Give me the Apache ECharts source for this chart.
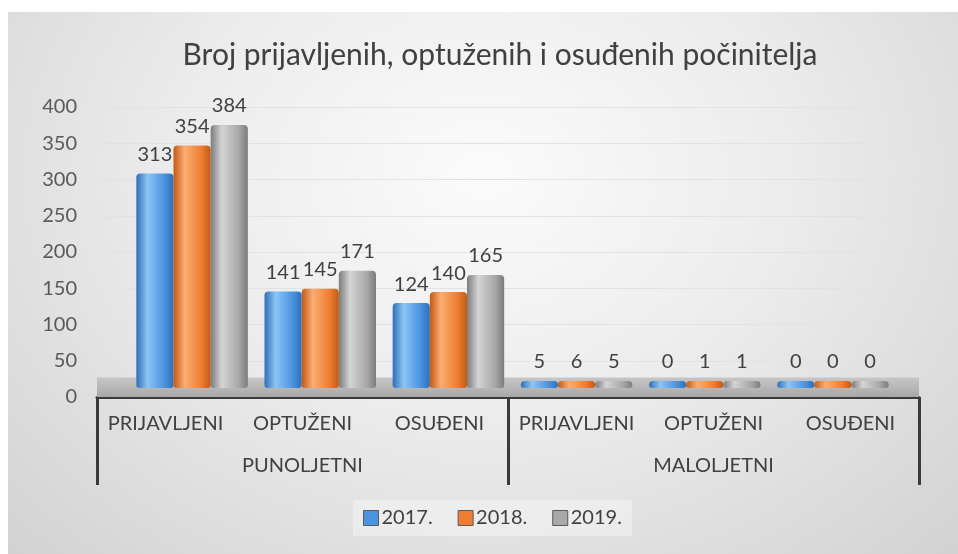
<!DOCTYPE html>
<html>
<head>
<meta charset="utf-8">
<script src="https://cdn.jsdelivr.net/npm/echarts@6/dist/echarts.min.js"></script>
<style>
  html, body { margin: 0; padding: 0; background: #fff; }
  #main {
    position: absolute; left: 8px; top: 12px; width: 950px; height: 542px;
    background: radial-gradient(ellipse at 50% 30%, #fbfbfb 0%, #ececec 45%, #d2d2d2 100%);
  }
</style>
</head>
<body>
<div id="main"></div>
<script>
// kategorije i grupe
var categories = ['PRIJAVLJENI', 'OPTUŽENI', 'OSUĐENI', 'PRIJAVLJENI', 'OPTUŽENI', 'OSUĐENI'];
var groups = ['PUNOLJETNI', 'MALOLJETNI'];
var years = ['2017.', '2018.', '2019.'];

// vrijednosti po godinama
var data2017 = [313, 141, 124, 5, 0, 0];
var data2018 = [354, 145, 140, 6, 1, 0];
var data2019 = [384, 171, 165, 5, 1, 0];

var yTicks = { min: 0, max: 400, interval: 50 };

var chart = echarts.init(document.getElementById('main'));

// valjak - horizontalni gradijent
function cyl(dark, light, mid) {
  return new echarts.graphic.LinearGradient(0, 0, 1, 0, [
    { offset: 0, color: dark },
    { offset: 0.3, color: light },
    { offset: 0.75, color: mid },
    { offset: 1, color: dark }
  ]);
}

var colors = [
  cyl('#2f6fb8', '#8cc4f5', '#4a94e0'),
  cyl('#c25a14', '#fbae72', '#ee7d31'),
  cyl('#7c7c7c', '#d4d4d4', '#a8a8a8')
];
var legendColors = ['#4a94e0', '#ee7d31', '#a8a8a8'];

// stupci idu u drugi (skriveni) grid - imitacija 3D perspektive
function makeSeries(name, vals, idx) {
  return {
    name: name,
    type: 'bar',
    xAxisIndex: 2,
    yAxisIndex: 1,
    data: vals,
    barGap: '0%',
    barCategoryGap: '13%',
    barMinHeight: 7,
    z: 3,
    itemStyle: { color: colors[idx], borderRadius: [4, 4, 3, 3] },
    label: {
      show: true,
      position: 'top',
      distance: 9,
      color: '#404040',
      fontSize: 20,
      fontFamily: 'Lato'
    }
  };
}

// pod (3D dno) na vidljivim osima
var floorSeries = {
  name: 'pod',
  type: 'line',
  xAxisIndex: 0,
  yAxisIndex: 0,
  data: categories.map(function () { return '-'; }),
  silent: true,
  markArea: {
    silent: true,
    itemStyle: {
      color: new echarts.graphic.LinearGradient(0, 0, 0, 1, [
        { offset: 0, color: '#c6c6c6' },
        { offset: 1, color: '#a8a8a8' }
      ])
    },
    data: [[{ yAxis: 0 }, { yAxis: 27 }]]
  }
};

chart.setOption({
  textStyle: { fontFamily: 'Lato' },
  title: {
    text: 'Broj prijavljenih, optuženih i osuđenih počinitelja',
    left: 487,
    textAlign: 'center',
    top: 23,
    textStyle: { fontSize: 30, fontWeight: 'normal', color: '#404040', fontFamily: 'Lato' }
  },
  legend: {
    data: years.map(function (y, i) {
      return { name: y, itemStyle: { color: legendColors[i], borderColor: '#5a5a5a', borderWidth: 1 } };
    }),
    bottom: 18,
    left: 345,
    icon: 'rect',
    itemWidth: 15,
    itemHeight: 15,
    itemGap: 25,
    padding: [8, 10],
    backgroundColor: 'rgba(255,255,255,0.35)',
    textStyle: { fontSize: 20, color: '#404040', padding: [0, 0, 0, -2] }
  },
  grid: [
    { left: 89, right: 39, top: 95, bottom: 157 },
    { left: 120, right: 61, top: 102, bottom: 166 }
  ],
  xAxis: [
    {
      type: 'category',
      gridIndex: 0,
      data: categories,
      position: 'bottom',
      axisLine: { lineStyle: { color: '#3a3a3a', width: 3 } },
      axisTick: { show: false },
      axisLabel: { fontSize: 20, color: '#404040', margin: 17, interval: 0 }
    },
    {
      type: 'category',
      gridIndex: 0,
      data: groups,
      position: 'bottom',
      axisLine: { show: false },
      axisTick: { show: true, length: 88, lineStyle: { color: '#3a3a3a', width: 3 } },
      axisLabel: { fontSize: 20, color: '#404040', margin: 59 },
      splitLine: { show: false }
    },
    {
      type: 'category',
      gridIndex: 1,
      data: categories,
      show: false
    }
  ],
  yAxis: [
    {
      type: 'value',
      gridIndex: 0,
      min: yTicks.min,
      max: yTicks.max,
      interval: yTicks.interval,
      axisLine: { show: false },
      axisTick: { show: false },
      axisLabel: { fontSize: 20, color: '#595959', margin: 20 },
      splitLine: { lineStyle: { color: '#e2e2e2', width: 1 } }
    },
    {
      type: 'value',
      gridIndex: 1,
      min: yTicks.min,
      max: yTicks.max,
      interval: yTicks.interval,
      show: false
    }
  ],
  series: [
    floorSeries,
    makeSeries(years[0], data2017, 0),
    makeSeries(years[1], data2018, 1),
    makeSeries(years[2], data2019, 2)
  ]
});
</script>
</body>
</html>
